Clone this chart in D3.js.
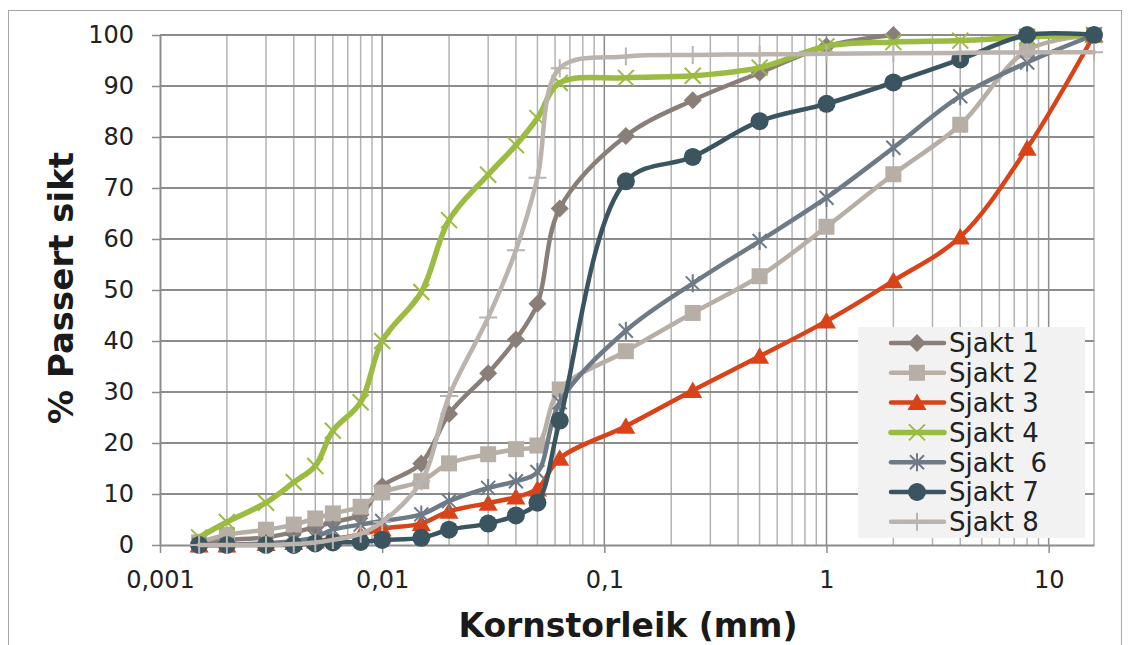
<!DOCTYPE html>
<html>
<head>
<meta charset="utf-8">
<script src="https://cdn.jsdelivr.net/npm/d3@7"></script>
<style>
  body { margin: 0; background: #fff; }
  svg { display: block; }
</style>
</head>
<body>
<div id="wrapper"></div>
<script>
// sieve sizes (mm) shared by every series
const sieveSizes = [0.0015, 0.002, 0.003, 0.004, 0.005, 0.006, 0.008, 0.01, 0.015, 0.02, 0.03, 0.04, 0.05, 0.063, 0.125, 0.25, 0.5, 1, 2, 4, 8, 16];

// null = no reading for that sieve
const sjakt1 = [0.5, 1.0, 1.5, 2.5, 3.5, 4.5, 6.0, 11.5, 16.0, 25.7, 33.7, 40.3, 47.3, 66.0, 80.2, 87.2, 92.6, 97.8, 100, null, null, null];
const sjakt2 = [0.5, 2.0, 3.0, 4.0, 5.2, 6.2, 7.5, 10.3, 12.5, 16.0, 17.8, 18.8, 19.5, 30.5, 38.0, 45.5, 52.7, 62.4, 72.7, 82.4, 97.0, 100];
const sjakt3 = [0, 0, 0.3, 0.5, 0.8, 1.2, 2.0, 3.2, 4.2, 6.6, 8.2, 9.4, 11.0, 17.0, 23.3, 30.3, 37.0, 43.9, 51.8, 60.4, 77.8, 100];
const sjakt4 = [1.5, 4.5, 8.3, 12.3, 15.5, 22.4, 28.0, 40.0, 49.6, 63.7, 72.6, 78.4, 83.7, 90.6, 91.6, 92.0, 93.6, 97.8, 98.6, 98.9, 99.6, 100];
const sjakt6 = [0, 0, 0.3, 0.8, 1.5, 3.0, 4.0, 4.7, 6.0, 8.6, 11.2, 12.5, 14.3, 28.0, 42.0, 51.3, 59.6, 68.1, 77.9, 88.0, 94.6, 100];
const sjakt7 = [0, 0, 0, 0, 0.3, 0.5, 0.6, 1.0, 1.4, 3.0, 4.2, 5.8, 8.3, 24.4, 71.3, 76.1, 83.1, 86.5, 90.7, 95.2, 100, 100];
const sjakt8 = [0, 0, 0, 0.2, 0.5, 1.0, 2.2, 4.5, 12.5, 29.2, 44.6, 57.8, 72.0, 93.5, 95.8, 96.1, 96.2, 96.3, 96.4, 96.5, 96.6, 96.6];

const seriesNames = ["Sjakt 1", "Sjakt 2", "Sjakt 3", "Sjakt 4", "Sjakt  6", "Sjakt 7", "Sjakt 8"];
const seriesValues = [sjakt1, sjakt2, sjakt3, sjakt4, sjakt6, sjakt7, sjakt8];

const xTickValues = [0.001, 0.01, 0.1, 1, 10];
const xTickLabels = ["0,001", "0,01", "0,1", "1", "10"];
const yTickValues = [0, 10, 20, 30, 40, 50, 60, 70, 80, 90, 100];

// look of each series (same order as names)
const seriesStyle = [
    { color: "#8a7f78", marker: "diamond", width: 4.5 },
    { color: "#b7aea6", marker: "square", width: 4.5 },
    { color: "#d8431a", marker: "triangle", width: 4.5 },
    { color: "#9bbb42", marker: "cross", width: 5.5 },
    { color: "#6e7a86", marker: "star", width: 4.5 },
    { color: "#3a5560", marker: "circle", width: 4.5 },
    { color: "#bab3ae", marker: "plus", width: 4.5 }
];

function markerPath(type) {
    switch (type) {
        case "diamond": return "M0,-9L9,0L0,9L-9,0Z";
        case "square": return "M-8,-8H8V8H-8Z";
        case "triangle": return "M0,-9L9.5,7.5L-9.5,7.5Z";
        case "cross": return "M-8,-8L8,8M8,-8L-8,8";
        case "star": return "M-7,-7L7,7M7,-7L-7,7M0,-9V9";
        case "plus": return "M-9,0H9M0,-9V9";
    }
    return "";
}

function drawMarker(g, style) {
    if (style.marker === "circle") {
        g.append("circle").attr("r", 9).attr("fill", style.color);
    } else if (["cross", "star", "plus"].includes(style.marker)) {
        g.append("path").attr("d", markerPath(style.marker))
            .attr("fill", "none").attr("stroke", style.color).attr("stroke-width", 2);
    } else {
        g.append("path").attr("d", markerPath(style.marker)).attr("fill", style.color);
    }
}

function buildPlot(id) {
    const dimension = {
        width: 1133,
        height: 645,
        margin: { top: 35, left: 160, bottom: 100, right: 39 }
    };
    const x0 = dimension.margin.left;
    const x1 = dimension.width - dimension.margin.right;
    const yTop = dimension.margin.top;
    const yBottom = dimension.height - dimension.margin.bottom;

    const svg = d3.select("#" + id).append("svg")
        .attr("width", dimension.width)
        .attr("height", dimension.height)
        .style("font-family", "'DejaVu Sans', Verdana, sans-serif");

    // outer chart frame
    svg.append("rect")
        .attr("x", 8.5).attr("y", 10.5)
        .attr("width", 1113).attr("height", 700)
        .attr("fill", "none").attr("stroke", "#a6a6a6").attr("stroke-width", 1);

    const xScaler = d3.scaleLog().domain([0.001, 16]).range([x0, x1]);
    const yScaler = d3.scaleLinear().domain([0, 100]).range([yBottom, yTop]);

    // vertical log grid
    const minorValues = [];
    for (let k = -3; k <= 1; k++) {
        for (let m = 1; m <= 9; m++) {
            const v = m * Math.pow(10, k);
            if (v > 0.001 && v <= 16) minorValues.push(v);
        }
    }
    minorValues.push(16);
    svg.append("g").selectAll("line")
        .data(minorValues)
        .join("line")
        .attr("x1", d => xScaler(d)).attr("x2", d => xScaler(d))
        .attr("y1", yTop).attr("y2", yBottom)
        .attr("stroke", d => xTickValues.includes(d) ? "#8c8c8c" : "#b3b3b3")
        .attr("stroke-width", 1.5);

    // horizontal grid
    svg.append("g").selectAll("line")
        .data(yTickValues.filter(d => d > 0))
        .join("line")
        .attr("x1", x0).attr("x2", x1)
        .attr("y1", d => yScaler(d)).attr("y2", d => yScaler(d))
        .attr("stroke", "#8c8c8c")
        .attr("stroke-width", 2);

    // axes
    const xAxis = d3.axisBottom(xScaler)
        .tickValues(xTickValues)
        .tickFormat((d, i) => xTickLabels[i])
        .tickSizeInner(8).tickSizeOuter(0).tickPadding(18);
    const yAxis = d3.axisLeft(yScaler)
        .tickValues(yTickValues)
        .tickSizeInner(8).tickSizeOuter(0).tickPadding(18);

    const gx = svg.append("g")
        .attr("transform", `translate(0,${yBottom})`)
        .call(xAxis);
    const gy = svg.append("g")
        .attr("transform", `translate(${x0},0)`)
        .call(yAxis);

    [gx, gy].forEach(g => {
        g.select(".domain").attr("stroke", "#8c8c8c").attr("stroke-width", 2);
        g.selectAll(".tick line").attr("stroke", "#8c8c8c").attr("stroke-width", 1.5);
        g.selectAll(".tick text")
            .attr("fill", "#222")
            .style("font-size", "24px")
            .style("font-family", "'DejaVu Sans', Verdana, sans-serif");
    });

    // series lines
    const lineGenerator = d3.line()
        .defined(d => d[1] !== null)
        .x(d => xScaler(d[0]))
        .y(d => yScaler(d[1]))
        .curve(d3.curveCatmullRom.alpha(0.5));

    seriesValues.forEach((values, i) => {
        const style = seriesStyle[i];
        const points = sieveSizes.map((s, j) => [s, values[j]]);
        const g = svg.append("g");
        g.append("path")
            .attr("d", lineGenerator(points))
            .attr("fill", "none")
            .attr("stroke", style.color)
            .attr("stroke-width", style.width)
            .attr("stroke-linejoin", "round")
            .attr("stroke-linecap", "round");
        points.filter(p => p[1] !== null).forEach(p => {
            const m = g.append("g")
                .attr("transform", `translate(${xScaler(p[0])},${yScaler(p[1])})`);
            drawMarker(m, style);
        });
    });

    // axis titles
    svg.append("text")
        .attr("x", (x0 + x1) / 2 + 1)
        .attr("y", 637)
        .attr("text-anchor", "middle")
        .style("font-size", "33px")
        .style("font-weight", "bold")
        .attr("fill", "#1a1a1a")
        .text("Kornstorleik (mm)");

    svg.append("text")
        .attr("text-anchor", "middle")
        .attr("transform", "translate(73,288)rotate(-90)")
        .style("font-size", "34px")
        .style("font-weight", "bold")
        .attr("fill", "#1a1a1a")
        .text("% Passert sikt");

    // legend
    const legend = svg.append("g");
    legend.append("rect")
        .attr("x", 858).attr("y", 327)
        .attr("width", 227).attr("height", 211)
        .attr("fill", "#f2f2f2");

    seriesNames.forEach((name, i) => {
        const style = seriesStyle[i];
        const ly = 343 + i * 29.8;
        legend.append("line")
            .attr("x1", 891).attr("x2", 944)
            .attr("y1", ly).attr("y2", ly)
            .attr("stroke", style.color)
            .attr("stroke-width", style.width)
            .attr("stroke-linecap", "round");
        const m = legend.append("g").attr("transform", `translate(917,${ly})`);
        drawMarker(m, style);
        legend.append("text")
            .attr("x", 949)
            .attr("y", ly)
            .attr("dy", "0.36em")
            .style("font-size", "26px")
            .style("white-space", "pre")
            .attr("fill", "#222")
            .text(name);
    });
}

buildPlot("wrapper");
</script>
</body>
</html>
